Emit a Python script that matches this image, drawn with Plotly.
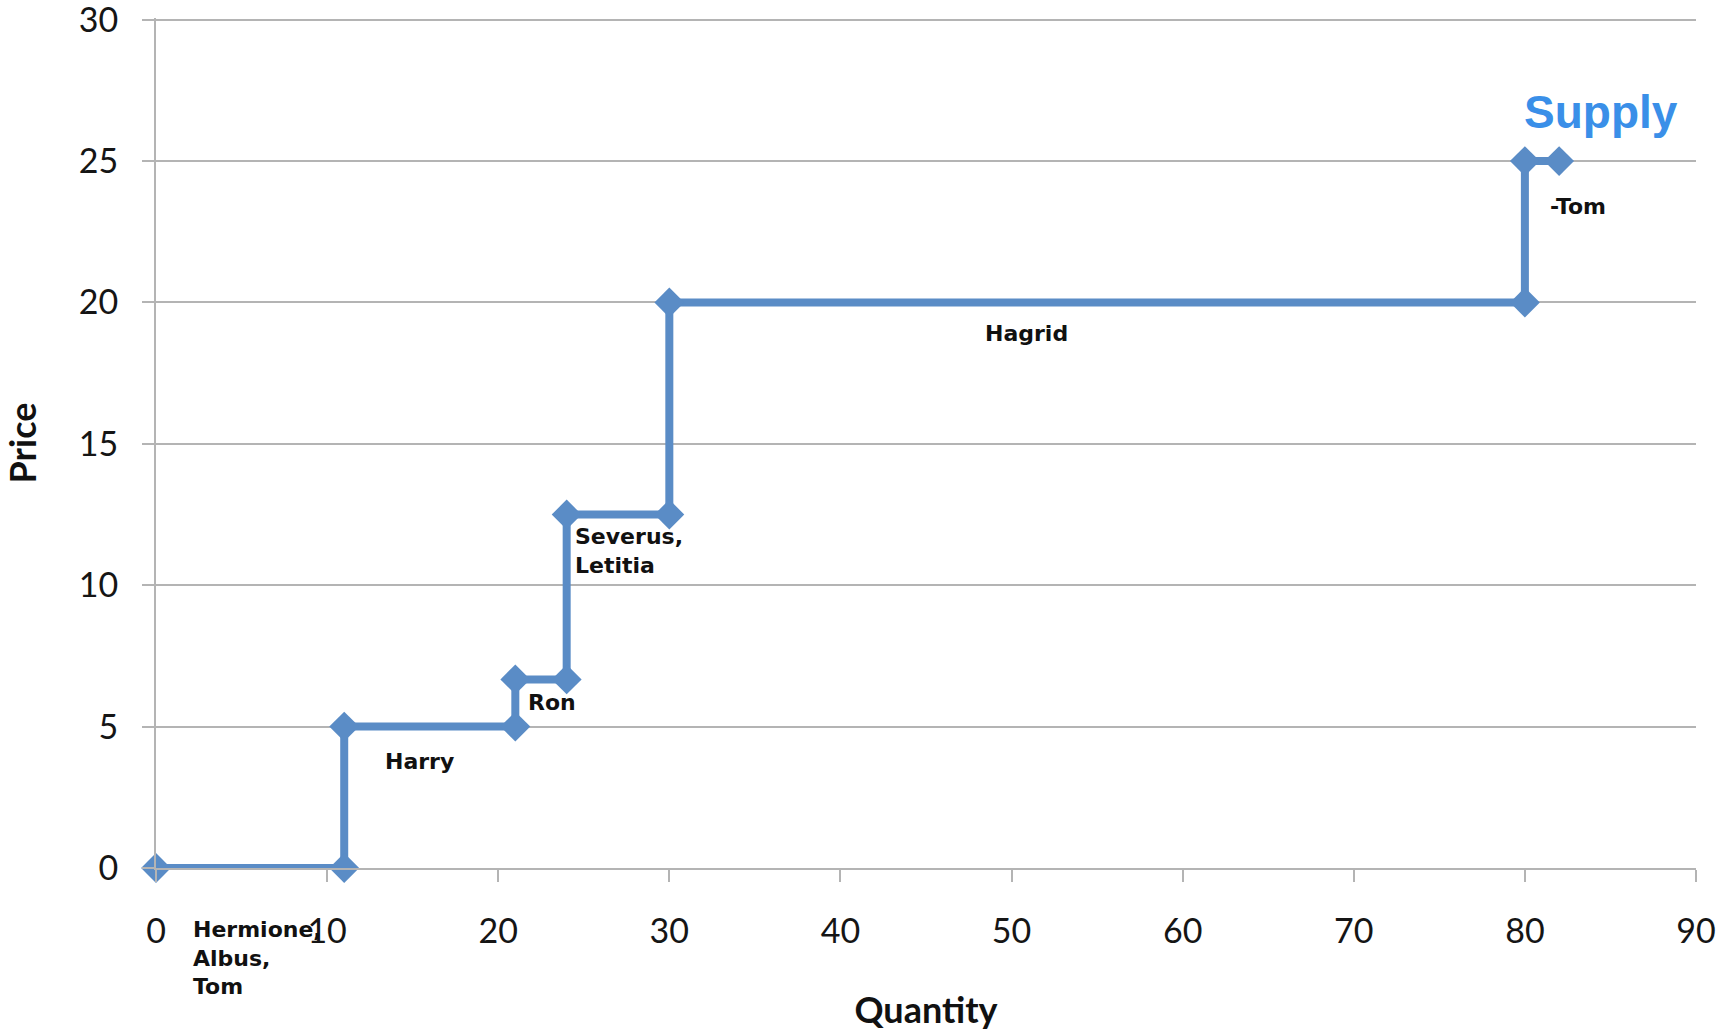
import plotly.graph_objects as go

# Supply schedule: cumulative quantity vs. asking price (step curve)
quantity = [0, 11, 11, 21, 21, 24, 24, 30, 30, 80, 80, 82]
price = [0, 0, 5, 5, 6.67, 6.67, 12.5, 12.5, 20, 20, 25, 25]

# Seller names shown beside each step
seller_labels = ["Hermione,<br>Albus,<br>Tom", "Harry", "Ron", "Severus,<br>Letitia", "Hagrid", "-Tom"]

x_ticks = [0, 10, 20, 30, 40, 50, 60, 70, 80, 90]
y_ticks = [0, 5, 10, 15, 20, 25, 30]

LINE_BLUE = "#5a8cc6"
GRID_GRAY = "#b4b4b4"

fig = go.Figure()
fig.add_trace(go.Scatter(
    x=quantity, y=price, mode="lines+markers",
    line=dict(color=LINE_BLUE, width=8),
    marker=dict(symbol="diamond", size=23, color=LINE_BLUE, line=dict(width=0)),
    cliponaxis=False, showlegend=False, hoverinfo="x+y",
))

# Label placement (data coordinates for x; y in data units, or paper units below the axis)
label_places = [
    dict(x=2.03, y=-0.106, yref="paper"),
    dict(x=13.27, y=3.75, yref="y"),
    dict(x=21.62, y=5.84, yref="y"),
    dict(x=24.37, y=11.21, yref="y"),
    dict(x=48.33, y=18.89, yref="y"),
    dict(x=81.36, y=23.38, yref="y"),
]
for text, pl in zip(seller_labels, label_places):
    fig.add_annotation(
        x=pl["x"], y=pl["y"], xref="x", yref=pl["yref"], text=text,
        showarrow=False, xanchor="left", yanchor="middle", align="left",
        font=dict(family="DejaVu Sans", size=22, color="#111111", weight="bold"),
    )

fig.add_annotation(
    x=84.42, y=26.75, xref="x", yref="y", text="Supply", showarrow=False,
    xanchor="center", yanchor="middle",
    font=dict(family="Liberation Sans", size=46, color="#3a8fe8", weight="bold"),
)

tick_font = dict(family="Lato", size=34, color="#151515")
title_font = dict(family="Lato", size=36, color="#111111", weight="bold")

fig.update_layout(
    width=1732, height=1034,
    margin=dict(l=156, r=36, t=18, b=166, autoexpand=False),
    paper_bgcolor="white", plot_bgcolor="white",
    xaxis=dict(
        range=[0, 90], tickvals=x_ticks, showgrid=False, zeroline=False,
        showline=True, linecolor=GRID_GRAY, linewidth=2,
        ticks="outside", ticklen=12, tickwidth=2, tickcolor=GRID_GRAY,
        tickfont=tick_font, ticklabelstandoff=20, ticklabeloverflow="allow",
        title=dict(text="Quantity", font=title_font, standoff=49),
        fixedrange=True,
    ),
    yaxis=dict(
        range=[0, 30.06], tickvals=y_ticks, showgrid=True, gridcolor=GRID_GRAY, gridwidth=2,
        zeroline=False, showline=True, linecolor=GRID_GRAY, linewidth=2,
        ticks="outside", ticklen=12, tickwidth=2, tickcolor=GRID_GRAY,
        tickfont=tick_font, ticklabelstandoff=17, ticklabeloverflow="allow",
        title=dict(text="Price", font=title_font, standoff=38),
        fixedrange=True,
    ),
)

fig.write_html("out.html")
